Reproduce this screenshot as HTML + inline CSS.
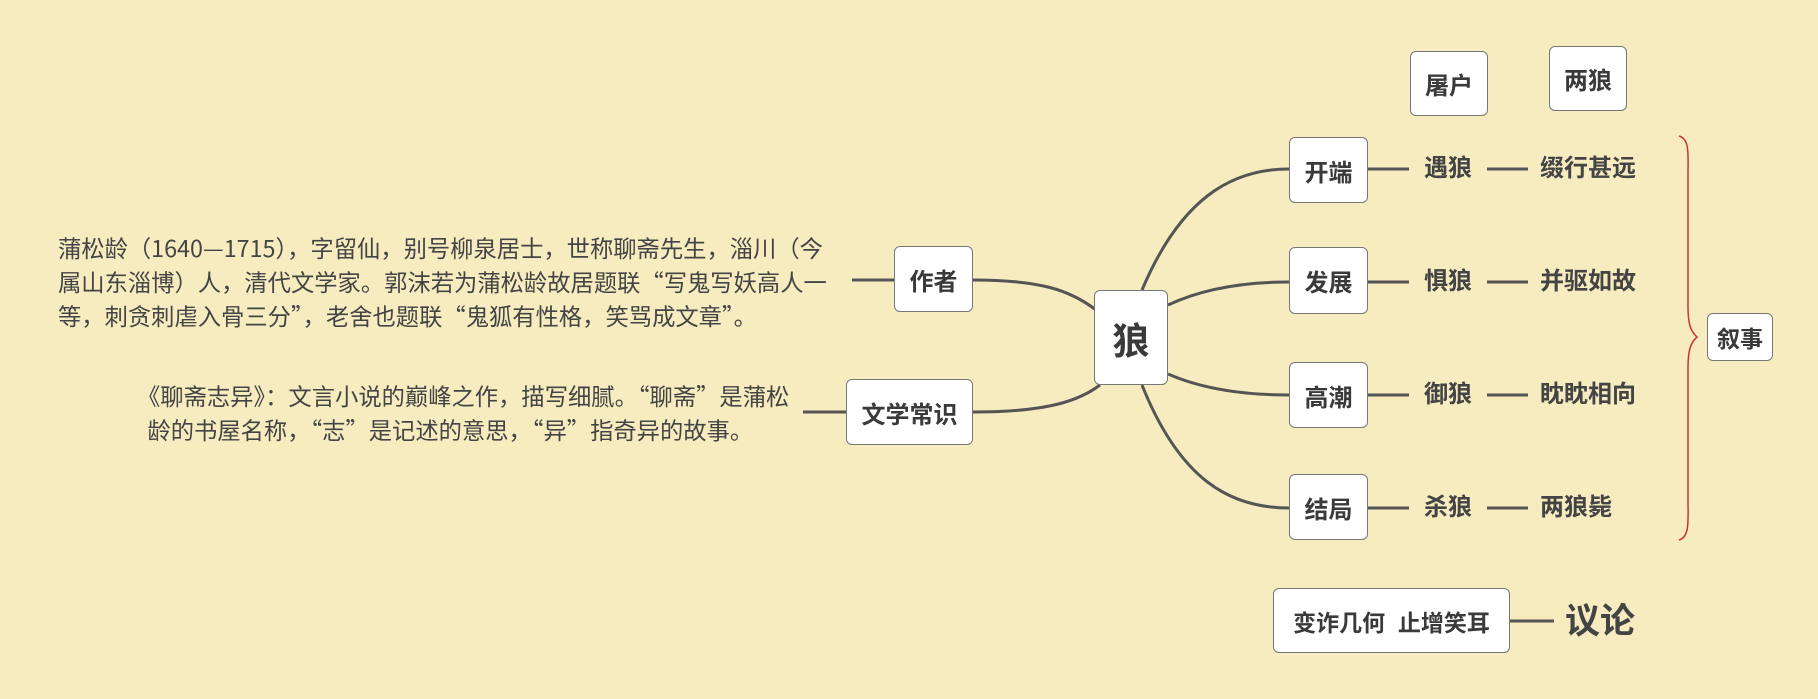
<!DOCTYPE html>
<html><head><meta charset="utf-8"><style>
body{margin:0;width:1818px;height:699px;background:#f6ecc0;position:relative;overflow:hidden;font-family:"Liberation Sans","Noto Sans CJK SC",sans-serif;color:#444}
.b{position:absolute;background:#fff;border:1px solid #777;border-radius:6px;box-sizing:border-box;display:flex;align-items:center;justify-content:center;font-weight:bold;font-size:24px;color:#3a3a3a}
.t{position:absolute;font-weight:bold;font-size:24px;line-height:28px;color:#444;white-space:nowrap}
.p{position:absolute;font-size:23.3px;line-height:34px;color:#444;white-space:nowrap;font-family:"Noto Sans CJK SC","Liberation Sans",sans-serif}
svg{position:absolute;left:0;top:0}
</style></head><body>
<svg width="1818" height="699">
<g stroke="#555" stroke-width="3" fill="none">
<path d="M1142 290 C1180 200 1230 169 1289 169"/>
<path d="M1168 305 C1200 290 1240 282 1289 282"/>
<path d="M1168 374 C1200 388 1240 395 1289 395"/>
<path d="M1142 385 C1180 480 1230 508 1289 508"/>
<path d="M973 280 C1040 280 1070 290 1096 310"/>
<path d="M973 412 C1050 412 1080 400 1100 385"/>
<path d="M852 280 H895"/><path d="M803 412 H846"/>
<path d="M1368 169 H1409"/><path d="M1487 169 H1528"/>
<path d="M1368 282 H1409"/><path d="M1487 282 H1528"/>
<path d="M1368 395 H1409"/><path d="M1487 395 H1528"/>
<path d="M1368 508 H1409"/><path d="M1487 508 H1528"/>
<path d="M1510 621 H1554"/>
</g>
<path d="M1679 136 C1690 139 1688 155 1688 175 V307 C1688 322 1690 331 1697 337 C1690 343 1688 352 1688 368 V500 C1688 520 1690 537 1679 540" stroke="#c33" stroke-width="1.5" fill="none"/>
</svg>
<div class="b" style="left:1410px;top:51px;width:78px;height:65px">屠户</div>
<div class="b" style="left:1549px;top:46px;width:78px;height:65px">两狼</div>
<div class="b" style="left:1289px;top:137px;width:79px;height:66px">开端</div>
<div class="b" style="left:1289px;top:247px;width:79px;height:67px">发展</div>
<div class="b" style="left:1289px;top:362px;width:79px;height:66px">高潮</div>
<div class="b" style="left:1289px;top:474px;width:79px;height:66px">结局</div>
<div class="b" style="left:1094px;top:290px;width:74px;height:95px;font-size:37px">狼</div>
<div class="b" style="left:894px;top:246px;width:79px;height:66px">作者</div>
<div class="b" style="left:846px;top:379px;width:127px;height:66px">文学常识</div>
<div class="b" style="left:1707px;top:313px;width:66px;height:48px;font-size:23px">叙事</div>
<div class="b" style="left:1273px;top:588px;width:237px;height:65px;font-size:23px">变诈几何&nbsp;&nbsp;止增笑耳</div>
<div class="t" style="left:1424px;top:155px">遇狼</div><div class="t" style="left:1540px;top:155px">缀行甚远</div>
<div class="t" style="left:1424px;top:268px">惧狼</div><div class="t" style="left:1540px;top:268px">并驱如故</div>
<div class="t" style="left:1424px;top:381px">御狼</div><div class="t" style="left:1540px;top:381px">眈眈相向</div>
<div class="t" style="left:1424px;top:494px">杀狼</div><div class="t" style="left:1540px;top:494px">两狼毙</div>
<div class="t" style="left:1565px;top:602px;font-size:35px;line-height:40px">议论</div>
<div class="p" style="left:58px;top:230px">蒲松龄（1640—1715），字留仙，别号柳泉居士，世称聊斋先生，淄川（今<br>属山东淄博）人，清代文学家。郭沫若为蒲松龄故居题联“写鬼写妖高人一<br>等，刺贪刺虐入骨三分”，老舍也题联“鬼狐有性格，笑骂成文章”。</div>
<div class="p" style="left:137px;top:378px">《聊斋志异》：文言小说的巅峰之作，描写细腻。“聊斋”是蒲松<br>&nbsp;&nbsp;龄的书屋名称，“志”是记述的意思，“异”指奇异的故事。</div>
</body></html>
